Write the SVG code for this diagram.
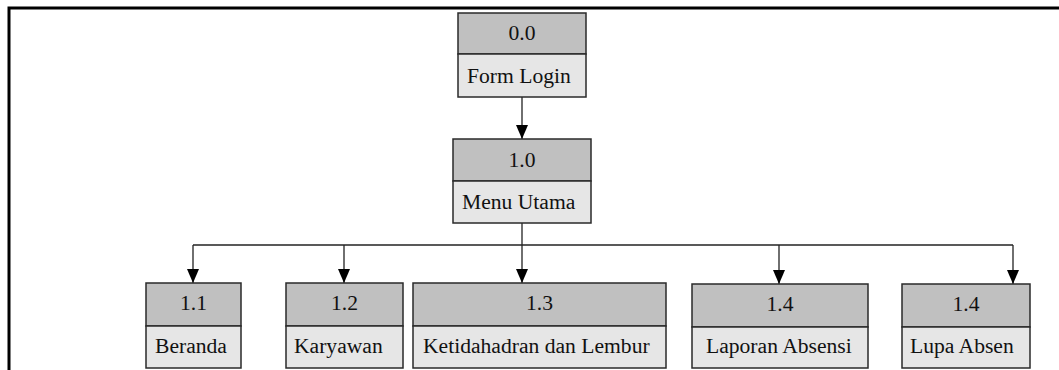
<svg xmlns="http://www.w3.org/2000/svg" width="1059" height="370" viewBox="0 0 1059 370">
<style>
.hd{fill:#c0c0c0;stroke:#2a2a2a;stroke-width:1.5}
.bd{fill:#e6e6e6;stroke:#2a2a2a;stroke-width:1.5}
text{font-family:'Liberation Serif','Times New Roman',serif;font-size:21.6px;fill:#111}
.c{text-anchor:middle}
.ln{fill:none;stroke:#222;stroke-width:1.3}
</style>
<defs>
<marker id="ar" viewBox="0 0 14 12" refX="14" refY="6" markerWidth="14" markerHeight="12" markerUnits="userSpaceOnUse" orient="auto">
<path d="M0,0 L14,6 L0,12 z" fill="#000"/>
</marker>
</defs>
<rect x="0" y="0" width="1059" height="370" fill="#fff"/>
<path d="M9,370 V8 H1059" fill="none" stroke="#000" stroke-width="3"/>
<g id="connectors">
<path class="ln" d="M522,97 V139" marker-end="url(#ar)"/>
<path class="ln" d="M522,223 V245"/>
<path class="ln" d="M193,245 H1013"/>
<path class="ln" d="M193,245 V283" marker-end="url(#ar)"/>
<path class="ln" d="M344,245 V283" marker-end="url(#ar)"/>
<path class="ln" d="M522,245 V283" marker-end="url(#ar)"/>
<path class="ln" d="M779,245 V284" marker-end="url(#ar)"/>
<path class="ln" d="M1013,245 V284" marker-end="url(#ar)"/>
</g>
<g id="n00">
<rect class="hd" x="458" y="13" width="128" height="41"/>
<rect class="bd" x="458" y="54" width="128" height="43"/>
<text class="c" x="522" y="39.5">0.0</text>
<text x="467" y="82.5">Form Login</text>
</g>
<g id="n10">
<rect class="hd" x="453" y="139" width="138" height="42"/>
<rect class="bd" x="453" y="181" width="138" height="42"/>
<text class="c" x="522" y="166.5">1.0</text>
<text x="462" y="209">Menu Utama</text>
</g>
<g id="n11">
<rect class="hd" x="146" y="283" width="95" height="43"/>
<rect class="bd" x="146" y="326" width="95" height="42"/>
<text class="c" x="193.5" y="310">1.1</text>
<text x="155" y="352.5">Beranda</text>
</g>
<g id="n12">
<rect class="hd" x="286" y="283" width="117" height="43"/>
<rect class="bd" x="286" y="326" width="117" height="42"/>
<text class="c" x="344.5" y="310">1.2</text>
<text x="294" y="352.5">Karyawan</text>
</g>
<g id="n13">
<rect class="hd" x="413" y="283" width="253" height="43"/>
<rect class="bd" x="413" y="326" width="253" height="42"/>
<text class="c" x="539.5" y="310">1.3</text>
<text x="423" y="352.5">Ketidahadran dan Lembur</text>
</g>
<g id="n14a">
<rect class="hd" x="692" y="284" width="176" height="43"/>
<rect class="bd" x="692" y="327" width="176" height="41"/>
<text class="c" x="780" y="311">1.4</text>
<text x="706" y="353">Laporan Absensi</text>
</g>
<g id="n14b">
<rect class="hd" x="902" y="284" width="128" height="43"/>
<rect class="bd" x="902" y="327" width="128" height="41"/>
<text class="c" x="966" y="311">1.4</text>
<text x="910" y="353">Lupa Absen</text>
</g>
</svg>
